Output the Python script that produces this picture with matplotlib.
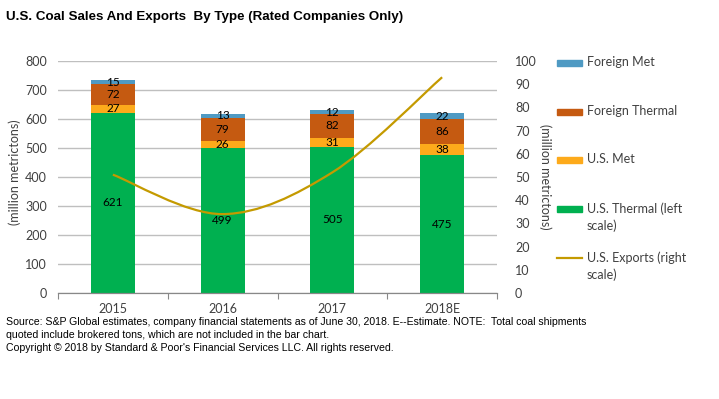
import numpy as np
import matplotlib.pyplot as plt
from matplotlib.path import Path
from matplotlib.patches import PathPatch, Rectangle
from matplotlib.lines import Line2D

# data (million metric tons)
years = ["2015", "2016", "2017", "2018E"]
us_thermal = [621, 499, 505, 475]
us_met = [27, 26, 31, 38]
foreign_thermal = [72, 79, 82, 86]
foreign_met = [15, 13, 12, 22]
us_exports = [51, 34, 52, 93]  # right scale

c_ft, c_fm = "#C55A11", "#4F9AC3"
c_um, c_ut = "#FDAA1B", "#00B050"
c_line = "#C49A00"
grid_col = "#BFBFBF"
chart_font = "Lato"
note_font = ["Liberation Sans Narrow", "Liberation Sans"]

fig = plt.figure(figsize=(7.19, 3.99), dpi=100)
ax = fig.add_axes([58 / 719, 1 - 293 / 399, 439 / 719, 232 / 399])
ax2 = ax.twinx()

x = np.arange(len(years))
w = 0.4
stack = [(us_thermal, c_ut), (us_met, c_um), (foreign_thermal, c_ft), (foreign_met, c_fm)]
bottom = np.zeros(len(years))
for vals, col in stack:
    bars = ax.bar(x, vals, w, bottom=bottom, color=col, zorder=2)
    for b, v in zip(bars, vals):
        ax.text(b.get_x() + b.get_width() / 2, b.get_y() + b.get_height() / 2, str(v),
                ha="center", va="center", fontsize=8.5, family=chart_font, zorder=3)
    bottom += np.array(vals)

# smoothed line (excel style bezier through the points)
pts = np.column_stack([x, us_exports]).astype(float)
verts = [pts[0]]
codes = [Path.MOVETO]
n = len(pts)
for i in range(n - 1):
    p0 = pts[max(i - 1, 0)]
    p1, p2 = pts[i], pts[i + 1]
    p3 = pts[min(i + 2, n - 1)]
    verts += [p1 + (p2 - p0) / 6, p2 - (p3 - p1) / 6, p2]
    codes += [Path.CURVE4] * 3
ax2.add_patch(PathPatch(Path(verts, codes), fill=False, edgecolor=c_line, lw=1.6, zorder=4))

ax.set_xlim(-0.5, 3.5)
ax.set_ylim(0, 800)
ax2.set_ylim(0, 100)
ax.set_yticks(range(0, 801, 100))
ax2.set_yticks(range(0, 101, 10))
ax.yaxis.grid(True, color=grid_col, lw=1, zorder=0)
ax.set_axisbelow(True)

ax.set_xticks(np.arange(-0.5, 4, 1))
ax.set_xticklabels([])
ax.set_xticks(x, minor=True)
ax.set_xticklabels(years, minor=True)
ax.tick_params(axis="x", which="major", length=4, color="#888888", direction="out")
ax.tick_params(axis="x", which="minor", length=0, pad=7)
ax.tick_params(axis="y", length=0, pad=8)
ax2.tick_params(axis="y", length=0, pad=13)

for a in (ax, ax2):
    for s in ["top", "left", "right"]:
        a.spines[s].set_visible(False)
    a.spines["bottom"].set_color("#888888")
    for lab in a.get_xticklabels(which="both") + a.get_yticklabels():
        lab.set_family(chart_font)
        lab.set_fontsize(9)
        lab.set_color("#404040")

fig.text(15 / 719, 1 - 172 / 399, "(million metrictons)", rotation=90, ha="center", va="center",
         fontsize=9, family=chart_font, color="#404040")
fig.text(545 / 719, 1 - 177 / 399, "(million metrictons)", rotation=270, ha="center", va="center",
         fontsize=9, family=chart_font, color="#404040")

# legend
leg_labels = ["Foreign Met", "Foreign Thermal", "U.S. Met", "U.S. Thermal (left\nscale)",
              "U.S. Exports (right\nscale)"]
leg_cols = [c_fm, c_ft, c_um, c_ut, c_line]
leg_y = [63, 112, 160, 209, 258]
for lab, col, yy in zip(leg_labels, leg_cols, leg_y):
    yf = 1 - yy / 399
    if "Exports" in lab:
        fig.add_artist(Line2D([557 / 719, 582 / 719], [yf, yf], color=col, lw=1.6))
    else:
        fig.add_artist(Rectangle((557 / 719, yf - 3 / 399), 25 / 719, 6 / 399,
                                 color=col, transform=fig.transFigure))
    fig.text(587 / 719, yf + 7 / 399, lab, ha="left", va="top", fontsize=9, family=chart_font,
             color="#404040", linespacing=1.5)

fig.text(6 / 719, 1 - 17 / 399, "U.S. Coal Sales And Exports  By Type (Rated Companies Only)",
         ha="left", va="center", fontsize=9.6, fontweight="bold", family=note_font)
note = ("Source: S&P Global estimates, company financial statements as of June 30, 2018. E--Estimate. "
        "NOTE:  Total coal shipments\nquoted include brokered tons, which are not included in the bar chart.\n"
        "Copyright \u00a9 2018 by Standard & Poor's Financial Services LLC. All rights reserved.")
fig.text(6 / 719, 1 - 317 / 399, note, ha="left", va="top", fontsize=7.6, family=note_font,
         linespacing=1.38)

fig.savefig("out.png", dpi=100)
